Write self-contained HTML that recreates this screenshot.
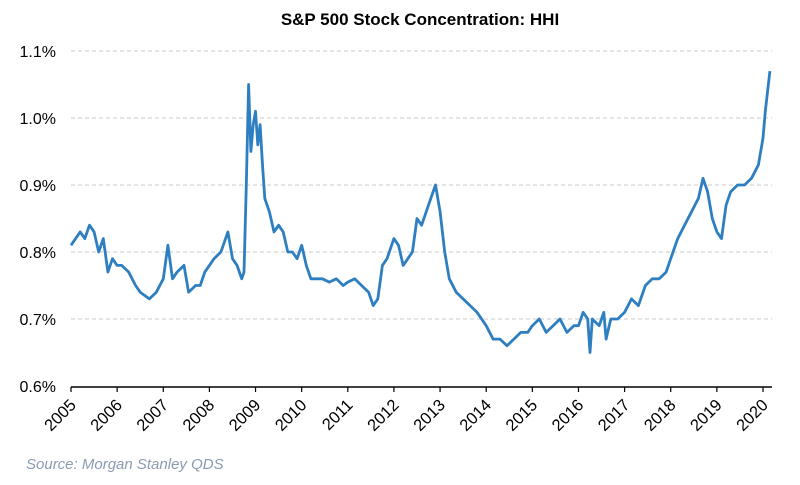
<!DOCTYPE html>
<html><head><meta charset="utf-8"><style>
body{margin:0;background:#fff;width:800px;height:480px;overflow:hidden;font-family:"Liberation Sans",Arial,sans-serif}
</style></head><body>
<svg id="chart" width="800" height="480">
<text x="420" y="25" text-anchor="middle" font-size="17" font-weight="bold" fill="#000">S&amp;P 500 Stock Concentration: HHI</text>
<g id="grid"></g><g id="yl"></g><g id="xl"></g>
<path id="line" fill="none" stroke="#2e7fc1" stroke-width="2.8" stroke-linejoin="round"></path>
<text x="26" y="469" font-size="15" font-style="italic" fill="#8a9bb0">Source: Morgan Stanley QDS</text>
</svg>
<script>
const yTicks=[0.6,0.7,0.8,0.9,1.0,1.1];
const yTickLabels=["0.6%","0.7%","0.8%","0.9%","1.0%","1.1%"];
const years=[2005,2006,2007,2008,2009,2010,2011,2012,2013,2014,2015,2016,2017,2018,2019,2020];
const dates=[2005,2005.1,2005.2,2005.3,2005.4,2005.5,2005.6,2005.7,2005.8,2005.9,2006,2006.1,2006.25,2006.4,2006.5,2006.7,2006.85,2007,2007.1,2007.2,2007.3,2007.45,2007.55,2007.7,2007.8,2007.9,2008,2008.1,2008.25,2008.4,2008.5,2008.6,2008.7,2008.75,2008.8,2008.85,2008.9,2008.95,2009,2009.05,2009.1,2009.15,2009.2,2009.3,2009.4,2009.5,2009.6,2009.7,2009.8,2009.9,2010,2010.1,2010.2,2010.3,2010.45,2010.6,2010.75,2010.9,2011,2011.15,2011.3,2011.45,2011.55,2011.65,2011.75,2011.85,2012,2012.1,2012.2,2012.3,2012.4,2012.5,2012.6,2012.7,2012.8,2012.9,2013,2013.1,2013.2,2013.35,2013.5,2013.65,2013.8,2014,2014.15,2014.3,2014.45,2014.6,2014.75,2014.9,2015,2015.15,2015.3,2015.45,2015.6,2015.75,2015.9,2016,2016.1,2016.2,2016.25,2016.3,2016.45,2016.55,2016.6,2016.7,2016.85,2017,2017.15,2017.3,2017.45,2017.6,2017.75,2017.9,2018,2018.15,2018.3,2018.45,2018.6,2018.7,2018.8,2018.9,2019,2019.1,2019.2,2019.3,2019.45,2019.6,2019.75,2019.9,2020,2020.05,2020.1,2020.15];
const values=[0.81,0.82,0.83,0.82,0.84,0.83,0.80,0.82,0.77,0.79,0.78,0.78,0.77,0.75,0.74,0.73,0.74,0.76,0.81,0.76,0.77,0.78,0.74,0.75,0.75,0.77,0.78,0.79,0.80,0.83,0.79,0.78,0.76,0.77,0.90,1.05,0.95,0.99,1.01,0.96,0.99,0.93,0.88,0.86,0.83,0.84,0.83,0.80,0.80,0.79,0.81,0.78,0.76,0.76,0.76,0.755,0.76,0.75,0.755,0.76,0.75,0.74,0.72,0.73,0.78,0.79,0.82,0.81,0.78,0.79,0.80,0.85,0.84,0.86,0.88,0.90,0.86,0.80,0.76,0.74,0.73,0.72,0.71,0.69,0.67,0.67,0.66,0.67,0.68,0.68,0.69,0.70,0.68,0.69,0.70,0.68,0.69,0.69,0.71,0.70,0.65,0.70,0.69,0.71,0.67,0.70,0.70,0.71,0.73,0.72,0.75,0.76,0.76,0.77,0.79,0.82,0.84,0.86,0.88,0.91,0.89,0.85,0.83,0.82,0.87,0.89,0.90,0.90,0.91,0.93,0.97,1.01,1.04,1.07];
const X0=71,X1=763,Y0=386,Y1=51;
function xs(d){return X0+(d-2005)/(2020-2005)*(X1-X0);}
function ys(v){return Y0+(v-0.6)/(1.1-0.6)*(Y1-Y0);}
const NS="http://www.w3.org/2000/svg";
function mk(t,a,p){const e=document.createElementNS(NS,t);for(const k in a)e.setAttribute(k,a[k]);p.appendChild(e);return e;}
const grid=document.getElementById('grid'),yl=document.getElementById('yl'),xl=document.getElementById('xl');
yTicks.forEach((v,i)=>{
  if(i>0){const g=mk('line',{x1:X0,x2:772,y1:ys(v),y2:ys(v),stroke:'#c8c8c8','stroke-dasharray':'4,3'},grid);
  
  }
  const t=mk('text',{x:56,y:ys(v)+6,'text-anchor':'end','font-size':'16',fill:'#000'},yl);t.textContent=yTickLabels[i];
  
  
});
const ax=mk('line',{x1:X0,x2:772,y1:Y0+1,y2:Y0+1,stroke:'#000','stroke-width':1.5},xl);


years.forEach(y=>{
  const x=xs(y);
  mk('line',{x1:x,x2:x,y1:Y0+1,y2:Y0+6,stroke:'#000','stroke-width':1.2},xl);
  const t=mk('text',{x:x+6,y:Y0+20,'text-anchor':'end','font-size':'16.5',fill:'#000',transform:`rotate(-45 ${x+6} ${Y0+20})`},xl);
  t.textContent=y;
  
  
});
document.getElementById('line').setAttribute('d',dates.map((d,i)=>(i?'L':'M')+xs(d).toFixed(1)+','+ys(values[i]).toFixed(1)).join(''));
</script>
</body></html>
